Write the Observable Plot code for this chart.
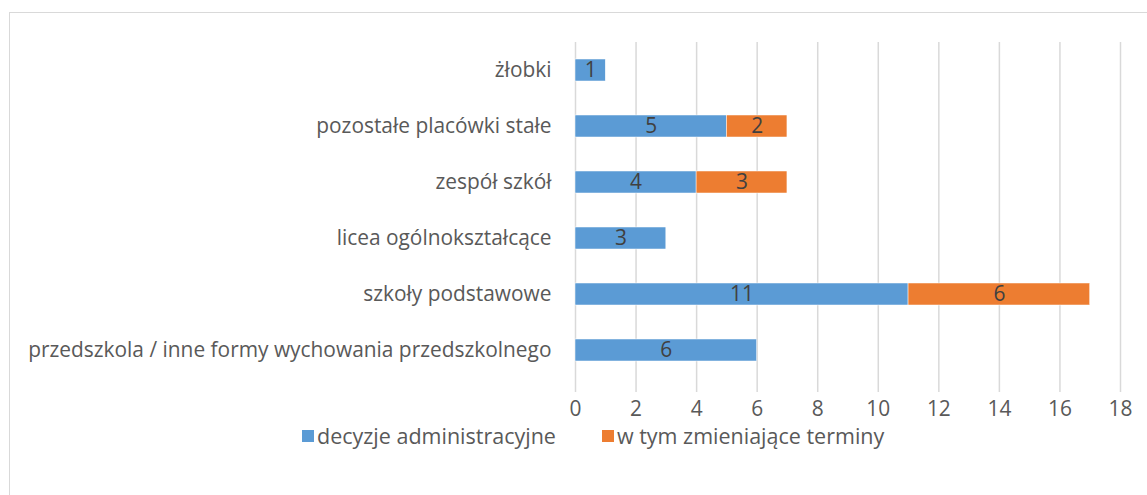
<!DOCTYPE html>
<html>
<head>
<meta charset="utf-8">
<script src="https://cdn.jsdelivr.net/npm/d3@7"></script>
<script src="https://cdn.jsdelivr.net/npm/@observablehq/plot@0.6"></script>
<style>
  html, body { margin: 0; padding: 0; background: #fff; overflow: hidden; }
  #wrap { position: relative; width: 1147px; height: 495px; font-family: "Open Sans", sans-serif; }
  #frame { position: absolute; left: 9px; top: 12px; width: 1200px; height: 600px; border: 1.5px solid #d9d9d9; box-sizing: border-box; }
  #chart { position: absolute; left: 0; top: 0; }
  #legend { position: absolute; left: 302px; top: 436px; transform: translateY(-50%); display: flex; align-items: center; color: #595959; white-space: nowrap; line-height: 16px; }
  .sw { display: inline-block; width: 12px; height: 12px; margin-right: 3px; }
  .item { display: flex; align-items: center; margin-right: 46px; }
</style>
</head>
<body>
<div id="wrap">
  <div id="frame"></div>
  <div id="chart"></div>
  <div id="legend"></div>
</div>
<script>
const categories = [
  "żłobki",
  "pozostałe placówki stałe",
  "zespół szkół",
  "licea ogólnokształcące",
  "szkoły podstawowe",
  "przedszkola / inne formy wychowania przedszkolnego"
];
const series = ["decyzje administracyjne", "w tym zmieniające terminy"];
const decyzje = [1, 5, 4, 3, 11, 6];
const zmieniajace = [0, 2, 3, 0, 6, 0];
const xTicks = [0, 2, 4, 6, 8, 10, 12, 14, 16, 18];
const colors = ["#5B9BD5", "#ED7D31"];

const data = [];
categories.forEach((c, i) => {
  if (decyzje[i]) data.push({cat: c, series: series[0], value: decyzje[i]});
  if (zmieniajace[i]) data.push({cat: c, series: series[1], value: zmieniajace[i]});
});

const fontName = "Open Sans";
const font = "'Open Sans', sans-serif";
// pick a font size so the longest category label spans the same width as the reference (~524px)
const ctx = document.createElement("canvas").getContext("2d");
ctx.font = `100px '${fontName}'`;
const longest = categories.reduce((a, b) => (a.length > b.length ? a : b));
const fs = Math.round(100 * 524 / ctx.measureText(longest).width * 10) / 10;

document.getElementById("legend").style.fontSize = (fs * 1.03).toFixed(1) + "px";

const chart = Plot.plot({
  width: 1147,
  height: 420,
  marginLeft: 575,
  marginRight: 27,
  marginTop: 42,
  marginBottom: 42,
  style: {fontFamily: font, fontSize: fs + "px", color: "#595959", background: "transparent", overflow: "visible"},
  x: {domain: [0, 18], ticks: xTicks, label: null},
  y: {domain: categories, paddingInner: 0.61, paddingOuter: 0.305, label: null},
  color: {domain: series, range: colors},
  marks: [
    Plot.ruleX(xTicks, {stroke: "#d9d9d9", strokeWidth: 1.5, insetBottom: -14}),
    Plot.barX(data, Plot.stackX({x: "value", y: "cat", z: "series", fill: "series", order: series, stroke: "white", strokeWidth: 0.5})),
    Plot.textX(data, Plot.stackX({x: "value", y: "cat", z: "series", text: "value", order: series, fill: "#404040", fontSize: fs})),
    Plot.axisX(xTicks, {tickSize: 0, tickPadding: 0, dy: 23, fontSize: fs, fill: "#595959", label: null}),
    Plot.axisY({tickSize: 0, tickPadding: 24, fontSize: fs, fill: "#595959", label: null})
  ]
});
document.getElementById("chart").appendChild(chart);

const legend = document.getElementById("legend");
series.forEach((s, i) => {
  const item = document.createElement("div");
  item.className = "item";
  const sw = document.createElement("span");
  sw.className = "sw";
  sw.style.background = colors[i];
  item.appendChild(sw);
  item.appendChild(document.createTextNode(s));
  legend.appendChild(item);
});
</script>
</body>
</html>
